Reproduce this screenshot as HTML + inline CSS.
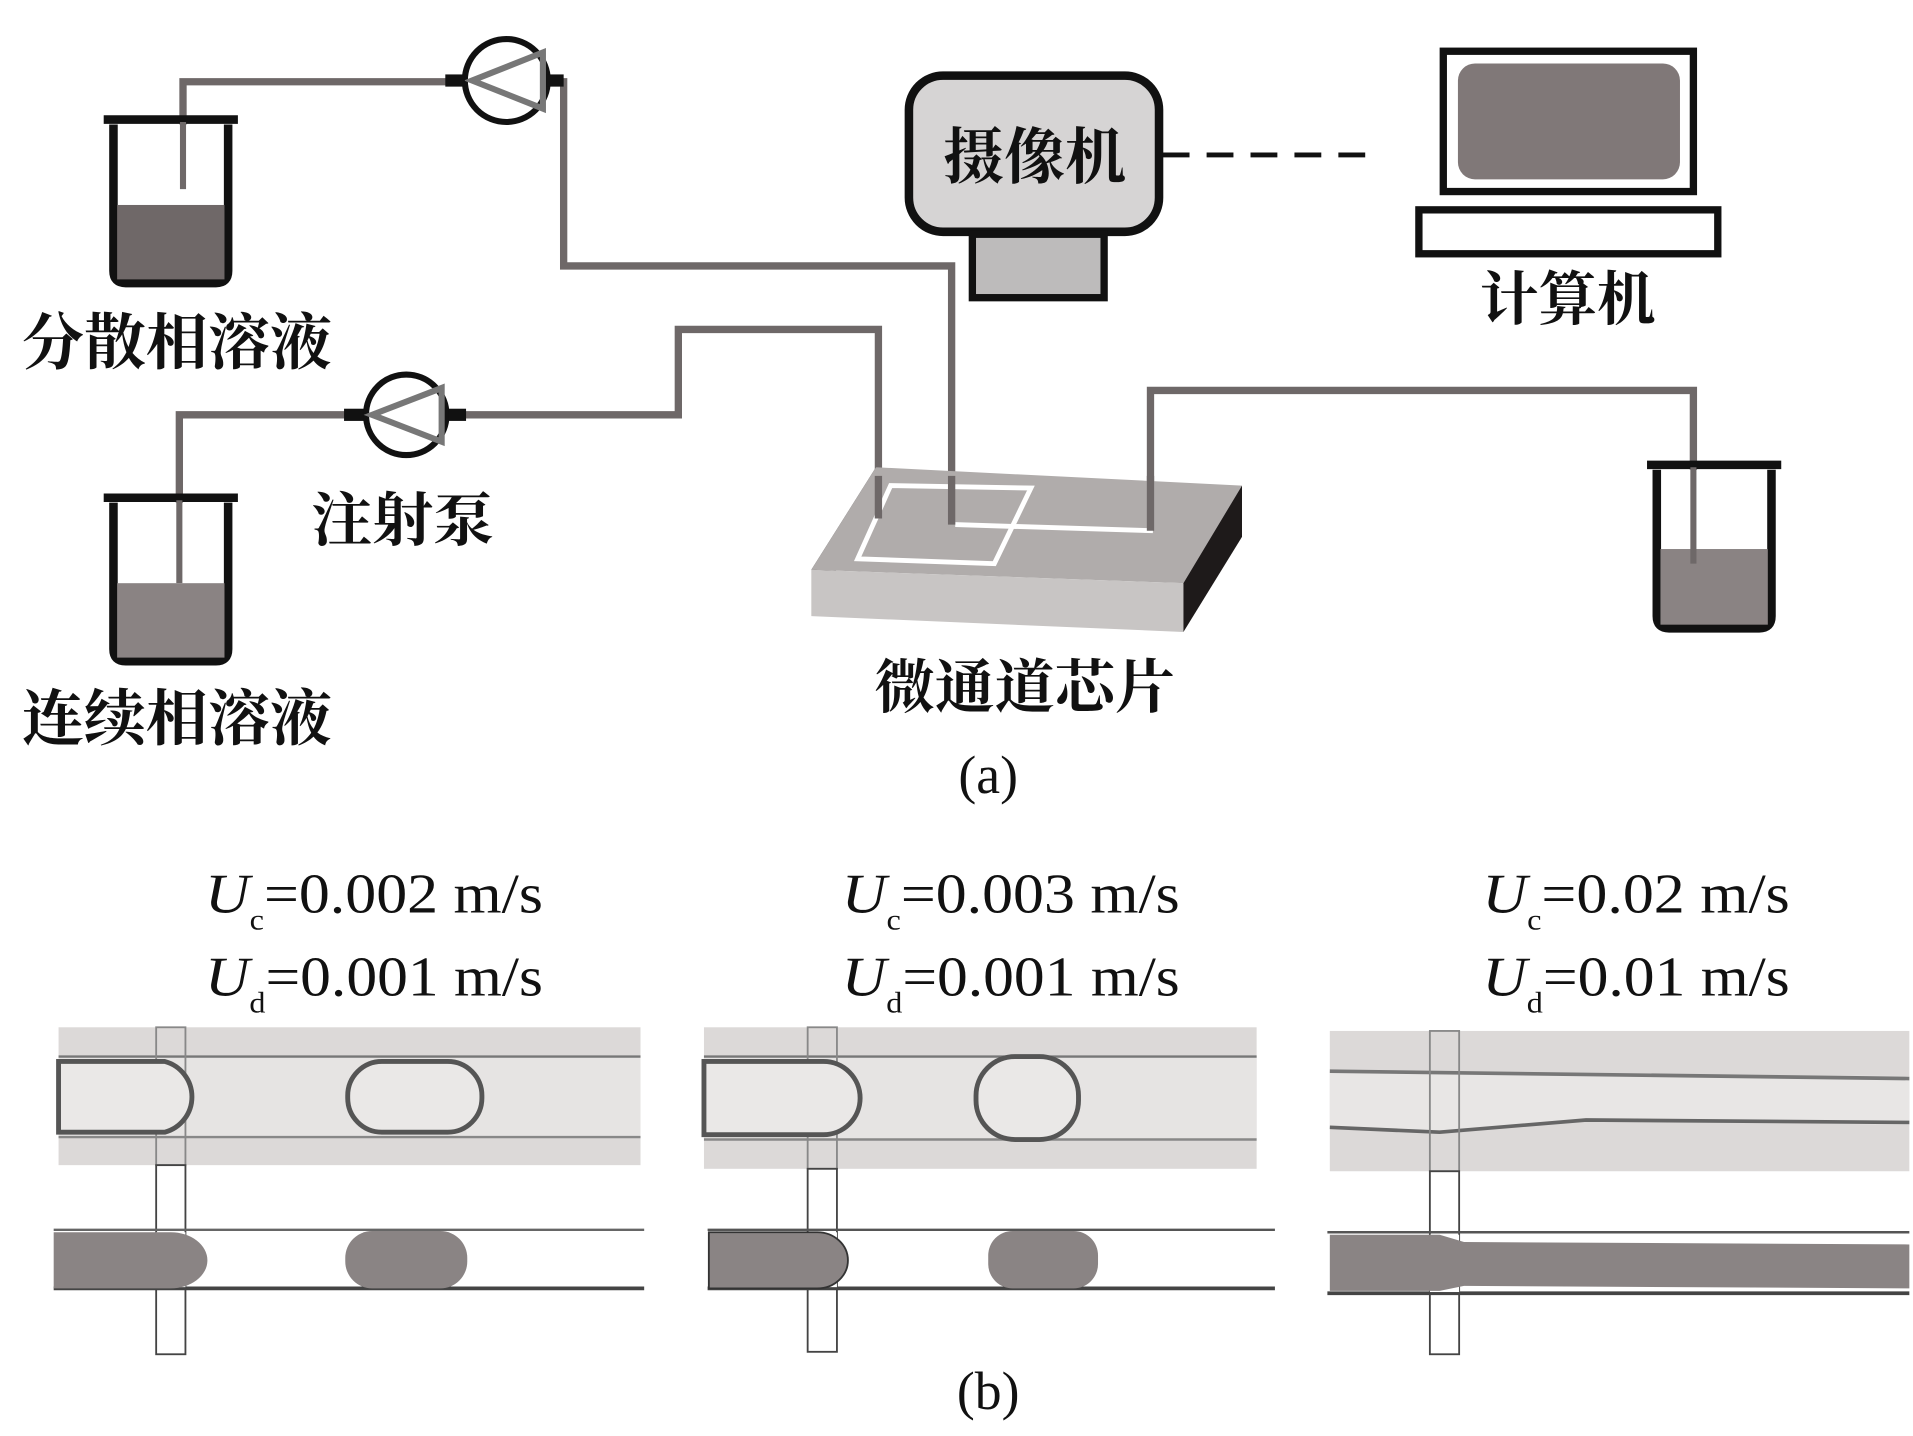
<!DOCTYPE html>
<html><head><meta charset="utf-8"><style>
html,body{margin:0;padding:0;background:#fff;}
svg{display:block;}
.cn{font-family:"Liberation Serif","Noto Serif CJK SC","Noto Sans CJK SC",serif;fill:#111;}
.tm{font-family:"Liberation Serif",serif;fill:#111;}
</style></head><body>
<svg width="1913" height="1436" viewBox="0 0 1568 1177" preserveAspectRatio="none" xmlns="http://www.w3.org/2000/svg">
<rect width="1568" height="1177" fill="#fff"/>
<g fill="none" stroke="#6e6868" stroke-width="6">
<polyline points="150,155 150,67 382,67"/>
<polyline points="450,67 462,67 462,218 780,218 780,430"/>
<polyline points="147,478 147,340 300,340"/>
<polyline points="367,340 556,340 556,270 720,270 720,425"/>
<polyline points="943,435 943,320 1388,320 1388,462"/>
</g>
<g stroke="#111" stroke-width="5" fill="#fff">
<circle cx="415" cy="66" r="34"/>
<circle cx="333" cy="340" r="33"/>
</g>
<g stroke="#777" stroke-width="5" fill="none">
<polygon points="445,43 445,89 387,66"/>
<polygon points="362,318 362,362 305,340"/>
</g>
<rect x="365" y="61" width="16" height="10" fill="#111"/>
<rect x="448" y="61" width="14" height="10" fill="#111"/>
<rect x="282" y="335" width="16" height="10" fill="#111"/>
<rect x="368" y="335" width="14" height="10" fill="#111"/>
<g>
<path d="M93,102 L93,222 Q93,232 103,232 L177,232 Q187,232 187,222 L187,102" fill="#fff" stroke="#111" stroke-width="7"/>
<rect x="96" y="168" width="88" height="61" fill="#6f6868"/>
<path d="M85,98 L195,98" stroke="#111" stroke-width="7"/>
<path d="M93,412 L93,532 Q93,542 103,542 L177,542 Q187,542 187,532 L187,412" fill="#fff" stroke="#111" stroke-width="7"/>
<rect x="96" y="478" width="88" height="61" fill="#8a8383"/>
<path d="M85,408 L195,408" stroke="#111" stroke-width="7"/>
<path d="M1358,385 L1358,505 Q1358,515 1368,515 L1442,515 Q1452,515 1452,505 L1452,385" fill="#fff" stroke="#111" stroke-width="7"/>
<rect x="1361" y="450" width="88" height="62" fill="#8a8383"/>
<path d="M1350,381 L1460,381" stroke="#111" stroke-width="7"/>
</g>
<g fill="none" stroke="#6e6868" stroke-width="5">
<line x1="150" y1="100" x2="150" y2="155"/>
<line x1="147" y1="410" x2="147" y2="478"/>
<line x1="1388" y1="383" x2="1388" y2="462"/>
</g>
<rect x="745" y="62" width="205" height="128" rx="28" fill="#d6d4d4" stroke="#111" stroke-width="7"/>
<rect x="797" y="192" width="108" height="52" fill="#bdbbbb" stroke="#111" stroke-width="6"/>
<text x="848" y="146" class="cn" font-size="50" font-weight="bold" text-anchor="middle">摄像机</text>
<line x1="953" y1="127" x2="1130" y2="127" stroke="#111" stroke-width="4" stroke-dasharray="22,14"/>
<rect x="1183" y="42" width="205" height="115" fill="#fff" stroke="#111" stroke-width="6"/>
<rect x="1195" y="52" width="182" height="95" rx="14" fill="#807878"/>
<rect x="1163" y="172" width="245" height="36" fill="#fff" stroke="#111" stroke-width="6"/>
<text x="1285" y="262" class="cn" font-size="48" font-weight="bold" text-anchor="middle">计算机</text>
<polygon points="665,467 718,383 732,385 685,468" fill="#3a3535"/>
<polygon points="718,383 1018,398 970,478 665,467" fill="#b0acab"/>
<polygon points="665,467 970,478 970,518 665,505" fill="#c8c5c4"/>
<polygon points="970,478 1018,398 1018,440 970,518" fill="#1e1a1a"/>
<polygon points="730,398 845,400 815,462 703,458" fill="none" stroke="#fff" stroke-width="4"/>
<line x1="783" y1="430" x2="945" y2="435" stroke="#fff" stroke-width="4"/>
<g fill="none" stroke="#6e6868" stroke-width="6">
<line x1="720" y1="390" x2="720" y2="425"/><line x1="780" y1="390" x2="780" y2="430"/><line x1="943" y1="390" x2="943" y2="435"/>
</g>
<text x="18" y="298" class="cn" font-size="50" font-weight="bold" textLength="254" lengthAdjust="spacingAndGlyphs">分散相溶液</text>
<text x="18" y="606" class="cn" font-size="50" font-weight="bold" textLength="254" lengthAdjust="spacingAndGlyphs">连续相溶液</text>
<text x="255" y="443" class="cn" font-size="48" font-weight="bold" textLength="150" lengthAdjust="spacingAndGlyphs">注射泵</text>
<text x="717" y="580" class="cn" font-size="48" font-weight="bold" textLength="246" lengthAdjust="spacingAndGlyphs">微通道芯片</text>
<text x="810" y="650" class="tm" font-size="44" text-anchor="middle">(a)</text>
<g class="tm" font-size="46">
<text x="168" y="748" textLength="277" lengthAdjust="spacingAndGlyphs"><tspan font-style="italic">U</tspan><tspan font-size="24" dy="14">c</tspan><tspan dy="-14">=0.002 m/s</tspan></text>
<text x="168" y="816" textLength="277" lengthAdjust="spacingAndGlyphs"><tspan font-style="italic">U</tspan><tspan font-size="24" dy="14">d</tspan><tspan dy="-14">=0.001 m/s</tspan></text>
<text x="690" y="748" textLength="277" lengthAdjust="spacingAndGlyphs"><tspan font-style="italic">U</tspan><tspan font-size="24" dy="14">c</tspan><tspan dy="-14">=0.003 m/s</tspan></text>
<text x="690" y="816" textLength="277" lengthAdjust="spacingAndGlyphs"><tspan font-style="italic">U</tspan><tspan font-size="24" dy="14">d</tspan><tspan dy="-14">=0.001 m/s</tspan></text>
<text x="1215" y="748" textLength="252" lengthAdjust="spacingAndGlyphs"><tspan font-style="italic">U</tspan><tspan font-size="24" dy="14">c</tspan><tspan dy="-14">=0.02 m/s</tspan></text>
<text x="1215" y="816" textLength="252" lengthAdjust="spacingAndGlyphs"><tspan font-style="italic">U</tspan><tspan font-size="24" dy="14">d</tspan><tspan dy="-14">=0.01 m/s</tspan></text>
</g>
<rect x="48" y="842" width="477" height="113" fill="#dcd9d8"/>
<rect x="48" y="866" width="477" height="66" fill="#e6e4e3"/>
<line x1="48" y1="866" x2="525" y2="866" stroke="#777" stroke-width="2"/>
<line x1="48" y1="932" x2="525" y2="932" stroke="#888" stroke-width="2"/>
<rect x="128" y="842" width="24" height="113" fill="none" stroke="#888" stroke-width="1.5"/>
<path d="M48,870 L135,870 A30,30 0 0 1 135,928 L48,928Z" fill="#eae8e7" stroke="#555" stroke-width="4"/>
<rect x="285" y="870" width="110" height="58" rx="28" fill="#eae8e7" stroke="#555" stroke-width="4"/>
<rect x="577" y="842" width="453" height="116" fill="#dcd9d8"/>
<rect x="577" y="866" width="453" height="68" fill="#e6e4e3"/>
<line x1="577" y1="866" x2="1030" y2="866" stroke="#777" stroke-width="2"/>
<line x1="577" y1="934" x2="1030" y2="934" stroke="#888" stroke-width="2"/>
<rect x="662" y="842" width="24" height="116" fill="none" stroke="#888" stroke-width="1.5"/>
<path d="M577,870 L675,870 A30,30 0 0 1 675,930 L577,930Z" fill="#eae8e7" stroke="#555" stroke-width="4"/>
<rect x="800" y="866" width="84" height="68" rx="32" fill="#eae8e7" stroke="#555" stroke-width="4"/>
<rect x="1090" y="845" width="475" height="115" fill="#dcd9d8"/>
<path d="M1090,878 L1565,882 L1565,922 L1300,918 L1180,928 L1090,925Z" fill="#e8e6e5"/>
<line x1="1090" y1="878" x2="1565" y2="884" stroke="#777" stroke-width="3"/>
<path d="M1090,924 L1180,928 L1300,918 L1565,920" fill="none" stroke="#666" stroke-width="3"/>
<rect x="1172" y="845" width="24" height="115" fill="none" stroke="#888" stroke-width="1.5"/>
<g stroke="#444" stroke-width="1.5" fill="#fff">
<rect x="128" y="955" width="24" height="155"/>
<rect x="662" y="958" width="24" height="150"/>
<rect x="1172" y="960" width="24" height="150"/>
</g>
<line x1="44" y1="1008" x2="528" y2="1008" stroke="#666" stroke-width="2"/>
<line x1="44" y1="1056" x2="528" y2="1056" stroke="#444" stroke-width="3"/>
<rect x="128" y="1010" width="24" height="45" fill="#fff"/>
<path d="M44,1010 L140,1010 A30,23 0 0 1 140,1056 L44,1056Z" fill="#8a8484"/>
<rect x="283" y="1009" width="100" height="47" rx="22" fill="#8a8484"/>
<line x1="580" y1="1008" x2="1045" y2="1008" stroke="#555" stroke-width="2"/>
<line x1="580" y1="1056" x2="1045" y2="1056" stroke="#444" stroke-width="3"/>
<rect x="662" y="1010" width="24" height="45" fill="#fff"/>
<path d="M581,1010 L670,1010 A25,23 0 0 1 670,1056 L581,1056Z" fill="#8a8484" stroke="#333" stroke-width="1.5"/>
<rect x="810" y="1009" width="90" height="47" rx="20" fill="#8a8484"/>
<line x1="1088" y1="1010" x2="1565" y2="1010" stroke="#555" stroke-width="2"/>
<line x1="1088" y1="1060" x2="1565" y2="1060" stroke="#444" stroke-width="3"/>
<rect x="1172" y="1012" width="24" height="47" fill="#fff"/>
<path d="M1090,1012 L1180,1012 L1200,1018 L1565,1020 L1565,1056 L1200,1054 L1180,1058 L1090,1058Z" fill="#8a8484"/>
<text x="810" y="1155" class="tm" font-size="44" text-anchor="middle">(b)</text>
</svg>
</body></html>
